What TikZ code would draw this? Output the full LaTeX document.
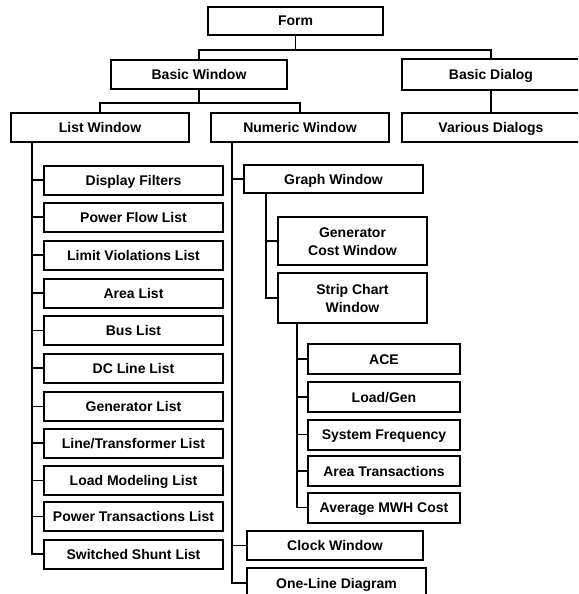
\documentclass[tikz,border=0pt]{standalone}
\usepackage{fontspec}
\setmainfont{Liberation Sans}
\begin{document}
\begin{tikzpicture}[x=1pt,y=-1pt,
  box/.style={draw=black,line width=2pt,rectangle,inner sep=0pt,align=center,
    text height=10pt,text depth=0pt,
    font=\bfseries\fontsize{14}{18}\selectfont,text=black},
  twoline/.style={text height=28pt},
  conn/.style={draw=black,line width=1.5pt}]
\clip (0,0) rectangle (578,594);
\fill[white] (0,0) rectangle (578,594);
% top levels
\node[box,minimum width=175pt,minimum height=28pt] (form) at (295.5,21) {Form};
\node[box,minimum width=176pt,minimum height=29pt] (bw) at (199,74.5) {Basic Window};
\node[box,minimum width=178pt,minimum height=30pt] (bd) at (491,74.5) {Basic Dialog};
\node[box,minimum width=178pt,minimum height=29pt] (lw) at (100,127.5) {List Window};
\node[box,minimum width=178pt,minimum height=29pt] (nw) at (300,127.5) {Numeric Window};
\node[box,minimum width=178pt,minimum height=29pt] (vd) at (491,127.5) {Various Dialogs};
% list items
\foreach \n/\y/\t in {df/180/{Display Filters}, pfl/217/{Power Flow List},
  lvl/255/{Limit Violations List}, al/293/{Area List}, bl/330.5/{Bus List},
  dcl/368/{DC Line List}, gl/406.5/{Generator List}, ltl/443/{Line/Transformer List},
  lml/480.5/{Load Modeling List}, ptl/516.5/{Power Transactions List},
  ssl/554/{Switched Shunt List}}
  \node[box,minimum width=179pt,minimum height=29pt] (\n) at (133.5,\y) {\t};
% numeric items
\node[box,minimum width=179pt,minimum height=28pt] (gw) at (333.5,179) {Graph Window};
\node[box,twoline,minimum width=149pt,minimum height=48pt] (gcw) at (352.5,241) {Generator\\Cost Window};
\node[box,twoline,minimum width=149pt,minimum height=50pt] (scw) at (352.5,298) {Strip Chart\\Window};
\foreach \n/\y/\t in {ace/359/{ACE}, lg/397/{Load/Gen}, sf/434.5/{System Frequency},
  at/471/{Area Transactions}, amc/507.5/{Average MWH Cost}}
  \node[box,minimum width=152pt,minimum height=30pt] (\n) at (384,\y) {\t};
\node[box,minimum width=176pt,minimum height=29pt] (cw) at (335,545.5) {Clock Window};
\node[box,minimum width=179pt,minimum height=30pt] (old) at (336.5,583) {One-Line Diagram};
% connectors top
\coordinate (fj) at (295.5,50);
\draw[conn] (form.south) -- (fj);
\draw[conn] (bw.north) |- (fj) -| (bd.north);
\draw[conn] (bd.south) -- (vd.north);
\coordinate (bj) at (199,103);
\draw[conn] (bw.south) -- (bj);
\draw[conn] (lw.north) |- (bj) -| (nw.north);
% list spine
\coordinate (ls) at (32,142);
\draw[conn] (ls) |- (ssl.west);
\foreach \n in {df,pfl,lvl,al,bl,dcl,gl,ltl,lml,ptl}
  \draw[conn] (ls |- \n.west) -- (\n.west);
% numeric spine
\coordinate (ns) at (232,142);
\draw[conn] (ns) |- (old.west);
\foreach \n in {gw,cw}
  \draw[conn] (ns |- \n.west) -- (\n.west);
% graph spine
\coordinate (gs) at (266,193);
\draw[conn] (gs) |- (scw.west);
\draw[conn] (gs |- gcw.west) -- (gcw.west);
% strip spine
\coordinate (ss) at (297,323);
\draw[conn] (ss) |- (amc.west);
\foreach \n in {ace,lg,sf,at}
  \draw[conn] (ss |- \n.west) -- (\n.west);
\end{tikzpicture}
\end{document}
